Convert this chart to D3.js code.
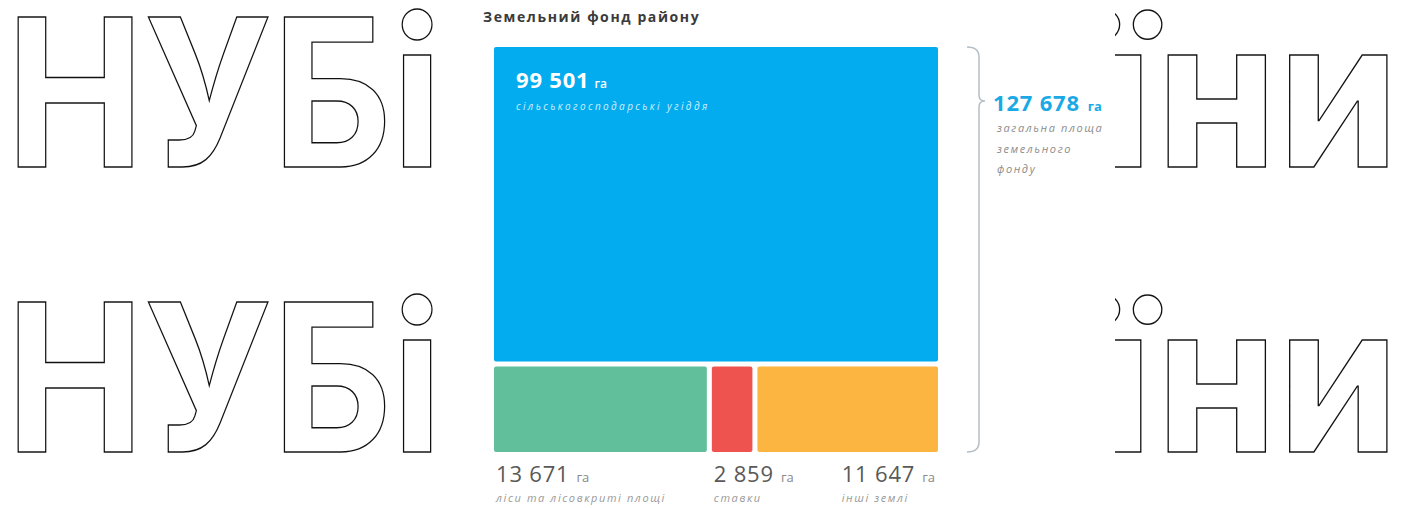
<!DOCTYPE html>
<html>
<head>
<meta charset="utf-8">
<script src="https://cdn.jsdelivr.net/npm/d3@7"></script>
<style>
  body { margin: 0; background: #fff; }
  svg { display: block; font-family: "Open Sans", sans-serif; }
</style>
</head>
<body>
<div id="chart"></div>
<script>
// Land fund data (hectares)
const title = 'Земельний фонд району';
const categories = ['сільськогосподарські угіддя', 'ліси та лісовкриті площі', 'ставки', 'інші землі'];
const areas = [99501, 13671, 2859, 11647];
const totalArea = 127678;
const totalLabel = ['загальна площа', 'земельного', 'фонду'];
const colors = ['#03acef', '#62bf9c', '#ef5350', '#fbb540'];
const unit = 'га';

const width = 1406, height = 508;

const svg = d3.select('#chart').append('svg')
    .attr('width', width)
    .attr('height', height);

// Background watermark
const wm = svg.append('g')
    .style('font-family', 'Inter, sans-serif')
    .attr('font-weight', 700)
    .attr('font-size', 206)
    .attr('fill', '#fff')
    .attr('stroke', '#111')
    .attr('stroke-width', 1.4);

[167, 452].forEach(base => {
    wm.append('text').attr('x', 6).attr('y', base)
        .attr('textLength', 436).attr('lengthAdjust', 'spacingAndGlyphs')
        .text('НУБі');
    wm.append('text').attr('x', 1100).attr('y', base)
        .attr('textLength', 299).attr('lengthAdjust', 'spacingAndGlyphs')
        .text('їни');
});

// White panel behind the chart
svg.append('rect')
    .attr('x', 442).attr('y', 0)
    .attr('width', 1115 - 442).attr('height', height)
    .attr('fill', '#fff');

svg.append('text')
    .attr('x', 483).attr('y', 22)
    .attr('font-size', 14)
    .attr('font-weight', 700)
    .attr('letter-spacing', 1.6)
    .attr('fill', '#3a3a3a')
    .text(title);

const fmt = d3.formatLocale({ decimal: ',', thousands: '\u00a0', grouping: [3], currency: ['', ''] }).format(',');

// Treemap: top row = agricultural land, bottom row = the rest
const root = d3.hierarchy({
    children: [
        { name: categories[0], value: areas[0], color: colors[0] },
        { children: categories.slice(1).map((c, i) => ({ name: c, value: areas[i + 1], color: colors[i + 1] })) }
    ]
}).sum(d => d.value || 0);

const box = { x: 494, y: 47, w: 444, h: 405 };

d3.treemap()
    .size([box.w, box.h])
    .paddingInner(5)
    .tile((node, x0, y0, x1, y1) => (node.depth === 0 ? d3.treemapSlice : d3.treemapDice)(node, x0, y0, x1, y1))
    (root);

const g = svg.append('g').attr('transform', `translate(${box.x},${box.y})`);

const leaves = root.leaves();

g.selectAll('rect.cell')
    .data(leaves)
    .join('rect')
    .attr('class', 'cell')
    .attr('x', d => d.x0)
    .attr('y', d => d.y0)
    .attr('width', d => d.x1 - d.x0)
    .attr('height', d => d.y1 - d.y0)
    .attr('rx', 2)
    .attr('fill', d => d.data.color);

// Label for the big cell (inside)
const big = leaves[0];
const bigT = g.append('text')
    .attr('x', big.x0 + 22).attr('y', big.y0 + 41)
    .attr('fill', '#fff');
bigT.append('tspan').attr('font-size', 22).attr('font-weight', 700).attr('letter-spacing', 0.8).text(fmt(big.value));
bigT.append('tspan').attr('font-size', 12).attr('font-weight', 600).attr('dx', 5).text(unit);
g.append('text')
    .attr('x', big.x0 + 22).attr('y', big.y0 + 63)
    .attr('fill', '#cdeefb')
    .attr('font-size', 10)
    .attr('font-style', 'italic')
    .attr('letter-spacing', 2.4)
    .text(big.data.name);

// Labels for the small cells (below)
leaves.slice(1).forEach((d, i, arr) => {
    const t = g.append('text')
        .attr('y', box.h + 30)
        .attr('fill', '#595959');
    t.append('tspan').attr('font-size', 22).attr('letter-spacing', 0.8).text(fmt(d.value));
    t.append('tspan').attr('font-size', 13).attr('fill', '#888').attr('dx', 7).text(unit);
    const last = i === arr.length - 1;
    const w = t.node().getComputedTextLength();
    const x = last ? d.x1 - w - 10 : d.x0 + 2;
    t.attr('x', x);
    g.append('text')
        .attr('x', x).attr('y', box.h + 50)
        .attr('fill', '#999')
        .attr('font-size', 11)
        .attr('font-style', 'italic')
        .attr('letter-spacing', 1.6)
        .text(d.data.name);
});

// Brace on the right
const bx = box.x + box.w + 41, braceTop = box.y, braceBot = box.y + box.h, tipY = braceTop + 54;
const brace = d3.path();
brace.moveTo(bx - 12, braceTop);
brace.quadraticCurveTo(bx, braceTop, bx, braceTop + 10);
brace.lineTo(bx, tipY - 6);
brace.quadraticCurveTo(bx, tipY, bx + 6, tipY);
brace.quadraticCurveTo(bx, tipY, bx, tipY + 6);
brace.lineTo(bx, braceBot - 10);
brace.quadraticCurveTo(bx, braceBot, bx - 12, braceBot);
svg.append('path')
    .attr('d', brace.toString())
    .attr('fill', 'none')
    .attr('stroke', '#b4bec6')
    .attr('stroke-width', 1.5);

const tt = svg.append('text')
    .attr('x', bx + 14).attr('y', tipY + 10)
    .attr('fill', '#1ba9e6');
tt.append('tspan').attr('font-size', 22).attr('font-weight', 700).attr('letter-spacing', 0.8).text(fmt(totalArea));
tt.append('tspan').attr('font-size', 13).attr('font-weight', 700).attr('dx', 8).text(unit);

svg.append('g').selectAll('text')
    .data(totalLabel)
    .join('text')
    .attr('x', bx + 18)
    .attr('y', (d, i) => tipY + 31 + i * 20.5)
    .attr('fill', '#8c8c8c')
    .attr('font-size', 11)
    .attr('font-style', 'italic')
    .attr('letter-spacing', 1.6)
    .text(d => d);
</script>
</body>
</html>
